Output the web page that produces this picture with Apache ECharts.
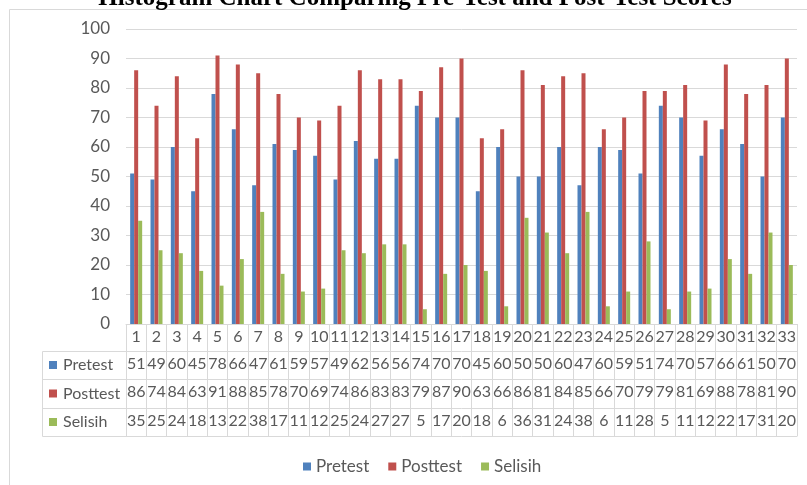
<!DOCTYPE html>
<html>
<head>
<meta charset="utf-8">
<title>Histogram Chart Comparing Pre-Test and Post-Test Scores</title>
<script src="https://cdn.jsdelivr.net/npm/echarts@6.0.0/dist/echarts.min.js"></script>
<style>
  html, body { margin: 0; padding: 0; background: #fff; }
  #main { width: 807px; height: 485px; }
</style>
</head>
<body>
<div id="main"></div>
<script>
// data
var students = ['1','2','3','4','5','6','7','8','9','10','11','12','13','14','15','16','17',
  '18','19','20','21','22','23','24','25','26','27','28','29','30','31','32','33'];
var pretest  = [51,49,60,45,78,66,47,61,59,57,49,62,56,56,74,70,70,45,60,50,50,60,47,60,59,51,74,70,57,66,61,50,70];
var posttest = [86,74,84,63,91,88,85,78,70,69,74,86,83,83,79,87,90,63,66,86,81,84,85,66,70,79,79,81,69,88,78,81,90];
var selisih  = [35,25,24,18,13,22,38,17,11,12,25,24,27,27,5,17,20,18,6,36,31,24,38,6,11,28,5,11,12,22,17,31,20];
var yTicks = [0, 10, 20, 30, 40, 50, 60, 70, 80, 90, 100];

var seriesNames = ['Pretest', 'Posttest', 'Selisih'];
var seriesData = [pretest, posttest, selisih];
var colors = ['#4F81BD', '#C0504D', '#9BBB59'];

var FONT = 'Lato';
var FS = 16;
var TXT = '#595959';
var LINE = '#d9d9d9';

var chart = echarts.init(document.getElementById('main'), null, { renderer: 'canvas' });

// rows of the data table: y offsets below the x axis line
var rowOffsets = [0, 27, 55, 84, 112];

function tableAxis(i) {
  var rowH = rowOffsets[i + 1] - rowOffsets[i];
  var vals = i === 0 ? null : seriesData[i - 1];
  return {
    type: 'category',
    gridIndex: 0,
    position: 'bottom',
    offset: rowOffsets[i],
    data: students,
    axisLine: { show: true, lineStyle: { color: LINE, width: 1 } },
    axisTick: { show: true, alignWithLabel: false, interval: 0, length: rowH, lineStyle: { color: LINE } },
    axisLabel: {
      show: true, interval: 0, hideOverlap: false,
      margin: 5, fontFamily: FONT, fontSize: FS, color: TXT,
      formatter: function (v, idx) { return vals ? String(vals[idx]) : v; }
    },
    splitLine: { show: false }
  };
}

var xAxes = [tableAxis(0), tableAxis(1), tableAxis(2), tableAxis(3)];
// bottom border of the table
xAxes.push({
  type: 'category', gridIndex: 0, position: 'bottom', offset: rowOffsets[4], data: students,
  axisLine: { show: true, lineStyle: { color: LINE } },
  axisTick: { show: false }, axisLabel: { show: false }
});

// row headers of the table (left column)
var graphics = [];
var rowTop = [351, 379, 408];
graphics.push({
  type: 'rect', shape: { x: 42.5, y: 351.5, width: 84, height: 85 },
  style: { fill: 'none', stroke: LINE, lineWidth: 1 }, silent: true
});
for (var r = 0; r < 3; r++) {
  var cy = (rowTop[r] + (r < 2 ? rowTop[r + 1] : 436)) / 2;
  if (r > 0) {
    graphics.push({ type: 'line', shape: { x1: 42, y1: rowTop[r] + 0.5, x2: 126, y2: rowTop[r] + 0.5 },
      style: { stroke: LINE, lineWidth: 1 }, silent: true });
  }
  graphics.push({ type: 'rect', shape: { x: 49, y: cy - 4, width: 8, height: 8 },
    style: { fill: colors[r] }, silent: true });
  graphics.push({ type: 'text', x: 63, y: cy,
    style: { text: seriesNames[r], fontFamily: FONT, fontSize: FS, fill: TXT, verticalAlign: 'middle' }, silent: true });
}
// outer chart border
graphics.push({ type: 'rect', shape: { x: 9.5, y: 9.5, width: 900, height: 600 },
  style: { fill: 'none', stroke: LINE, lineWidth: 1 }, silent: true, z: -10 });
// title (clipped at the top in the source image)
graphics.push({ type: 'text', x: 415, y: 11,
  style: { text: 'Histogram Chart Comparing Pre-Test and Post-Test Scores',
    fontFamily: 'Liberation Serif', fontWeight: 'bold', fontSize: 25, fill: '#000',
    align: 'center', verticalAlign: 'bottom' }, silent: true, z: 10 });

var series = seriesNames.map(function (name, i) {
  return {
    name: name,
    type: 'bar',
    xAxisIndex: 0,
    yAxisIndex: 0,
    data: seriesData[i],
    barWidth: 4,
    barGap: '0%',
    itemStyle: { color: colors[i] }
  };
});

chart.setOption({
  animation: false,
  textStyle: { fontFamily: FONT },
  grid: { left: 126, right: 10, top: 29, bottom: 161, containLabel: false },
  legend: {
    data: seriesNames,
    left: 298, top: 453,
    icon: 'rect', itemWidth: 8, itemHeight: 8, itemGap: 19,
    textStyle: { fontFamily: FONT, fontSize: FS + 1, color: TXT }
  },
  xAxis: xAxes,
  yAxis: {
    type: 'value', min: yTicks[0], max: yTicks[yTicks.length - 1], interval: 10,
    axisLine: { show: false }, axisTick: { show: false },
    axisLabel: { margin: 16, fontFamily: FONT, fontSize: FS + 1, color: TXT },
    splitLine: { lineStyle: { color: LINE } }
  },
  series: series,
  graphic: graphics
});
</script>
</body>
</html>
